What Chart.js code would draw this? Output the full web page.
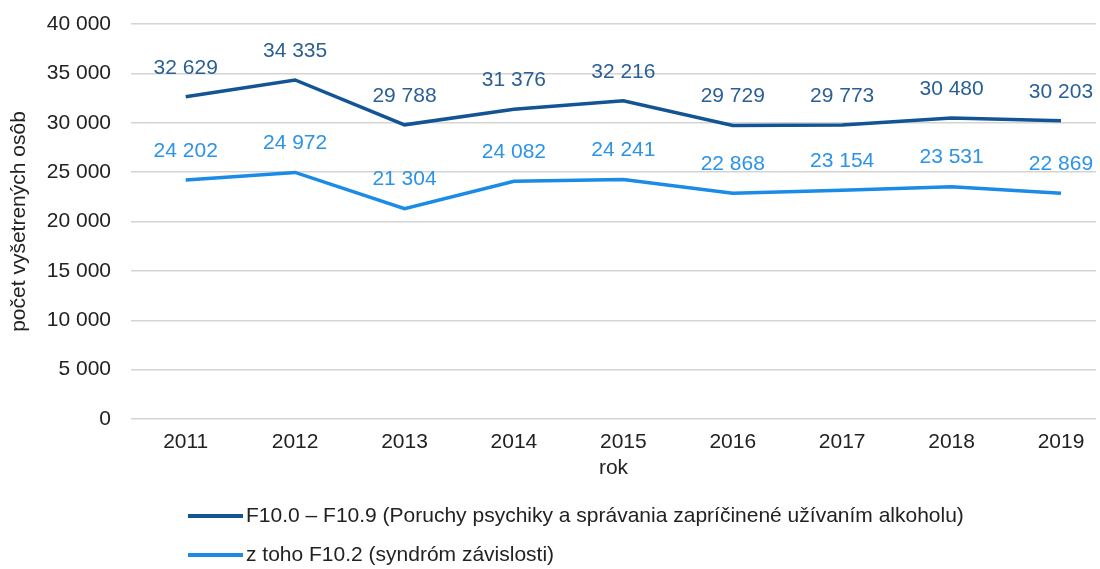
<!DOCTYPE html>
<html>
<head>
<meta charset="utf-8">
<script src="https://cdn.jsdelivr.net/npm/chart.js@4"></script>
<style>
  html, body { margin: 0; padding: 0; background: #fff; }
  #wrap { width: 1100px; height: 569px; }
</style>
</head>
<body>
<div id="wrap"><canvas id="graf"></canvas></div>
<script>
// roky a hodnoty
const roky = [2011, 2012, 2013, 2014, 2015, 2016, 2017, 2018, 2019];
const poruchy = [32629, 34335, 29788, 31376, 32216, 29729, 29773, 30480, 30203];
const zavislost = [24202, 24972, 21304, 24082, 24241, 22868, 23154, 23531, 22869];
const popisy = [
    'F10.0 – F10.9 (Poruchy psychiky a správania zapríčinené užívaním alkoholu)',
    'z toho F10.2 (syndróm závislosti)'
];
const yTicky = [0, 5000, 10000, 15000, 20000, 25000, 30000, 35000, 40000];

const TMAVA = '#135494';
const SVETLA = '#1a8be6';
const FONT = '"Liberation Sans", Arial, sans-serif';

function formatCislo(v) {
    return String(v).replace(/\B(?=(\d{3})+(?!\d))/g, ' ');
}

// popisky nad bodmi
const popiskyPlugin = {
    id: 'popisky',
    afterDatasetsDraw(chart) {
        const ctx = chart.ctx;
        ctx.save();
        ctx.font = '21px ' + FONT;
        ctx.textAlign = 'center';
        ctx.textBaseline = 'middle';
        chart.data.datasets.forEach((ds, i) => {
            const meta = chart.getDatasetMeta(i);
            ctx.fillStyle = ds.labelColor;
            meta.data.forEach((pt, j) => {
                ctx.fillText(formatCislo(ds.data[j].y), pt.x, pt.y - 29);
            });
        });
        ctx.restore();
    }
};

// legenda pod grafom
const legendaPlugin = {
    id: 'legenda',
    afterDraw(chart) {
        const ctx = chart.ctx;
        ctx.save();
        ctx.font = '21px ' + FONT;
        ctx.textBaseline = 'middle';
        chart.data.datasets.forEach((ds, i) => {
            const y = 516 + i * 39;
            ctx.strokeStyle = ds.borderColor;
            ctx.lineWidth = 4;
            ctx.beginPath();
            ctx.moveTo(188, y);
            ctx.lineTo(243, y);
            ctx.stroke();
            ctx.fillStyle = '#222';
            ctx.fillText(ds.label, 246, y);
        });
        ctx.restore();
    }
};

document.addEventListener('DOMContentLoaded', () => {
    const ctx = document.getElementById('graf').getContext('2d');
    new Chart(ctx, {
        type: 'line',
        data: {
            datasets: [{
                label: popisy[0],
                data: roky.map((r, i) => ({ x: r, y: poruchy[i] })),
                borderColor: TMAVA,
                labelColor: '#2a5f96',
                borderWidth: 3.5,
                pointRadius: 0,
                tension: 0
            }, {
                label: popisy[1],
                data: roky.map((r, i) => ({ x: r, y: zavislost[i] })),
                borderColor: SVETLA,
                labelColor: '#2b93e8',
                borderWidth: 3.5,
                pointRadius: 0,
                tension: 0
            }]
        },
        options: {
            responsive: true,
            maintainAspectRatio: false,
            animation: false,
            layout: { padding: { top: 24, right: 4, bottom: 75, left: 0 } },
            plugins: {
                legend: { display: false },
                tooltip: { enabled: false }
            },
            scales: {
                x: {
                    type: 'linear',
                    min: 2010.5,
                    max: 2019.32,
                    grid: { display: false, drawTicks: false },
                    border: { display: false },
                    afterBuildTicks: s => { s.ticks = roky.map(r => ({ value: r })); },
                    afterFit: s => { s.height = 75; s.paddingLeft = 0; s.paddingRight = 0; },
                    ticks: {
                        autoSkip: false,
                        maxRotation: 0,
                        padding: 11,
                        color: '#222',
                        font: { family: FONT, size: 21 },
                        callback: v => String(v)
                    },
                    title: {
                        display: true,
                        text: 'rok',
                        color: '#222',
                        padding: { top: 0, bottom: 13 },
                        font: { family: FONT, size: 21 }
                    }
                },
                y: {
                    min: 0,
                    max: 40000,
                    afterBuildTicks: s => { s.ticks = yTicky.map(v => ({ value: v })); },
                    afterFit: s => { s.width = 131; s.paddingTop = 0; s.paddingBottom = 0; },
                    grid: { color: '#d4d4d4', lineWidth: 1.5, drawTicks: false },
                    border: { display: false },
                    ticks: {
                        padding: 20,
                        color: '#222',
                        font: { family: FONT, size: 21 },
                        callback: v => formatCislo(v)
                    },
                    title: {
                        display: true,
                        text: 'počet vyšetrených osôb',
                        color: '#222',
                        padding: { top: 7, bottom: 0 },
                        font: { family: FONT, size: 21 }
                    }
                }
            }
        },
        plugins: [popiskyPlugin, legendaPlugin]
    });
});
</script>
</body>
</html>
